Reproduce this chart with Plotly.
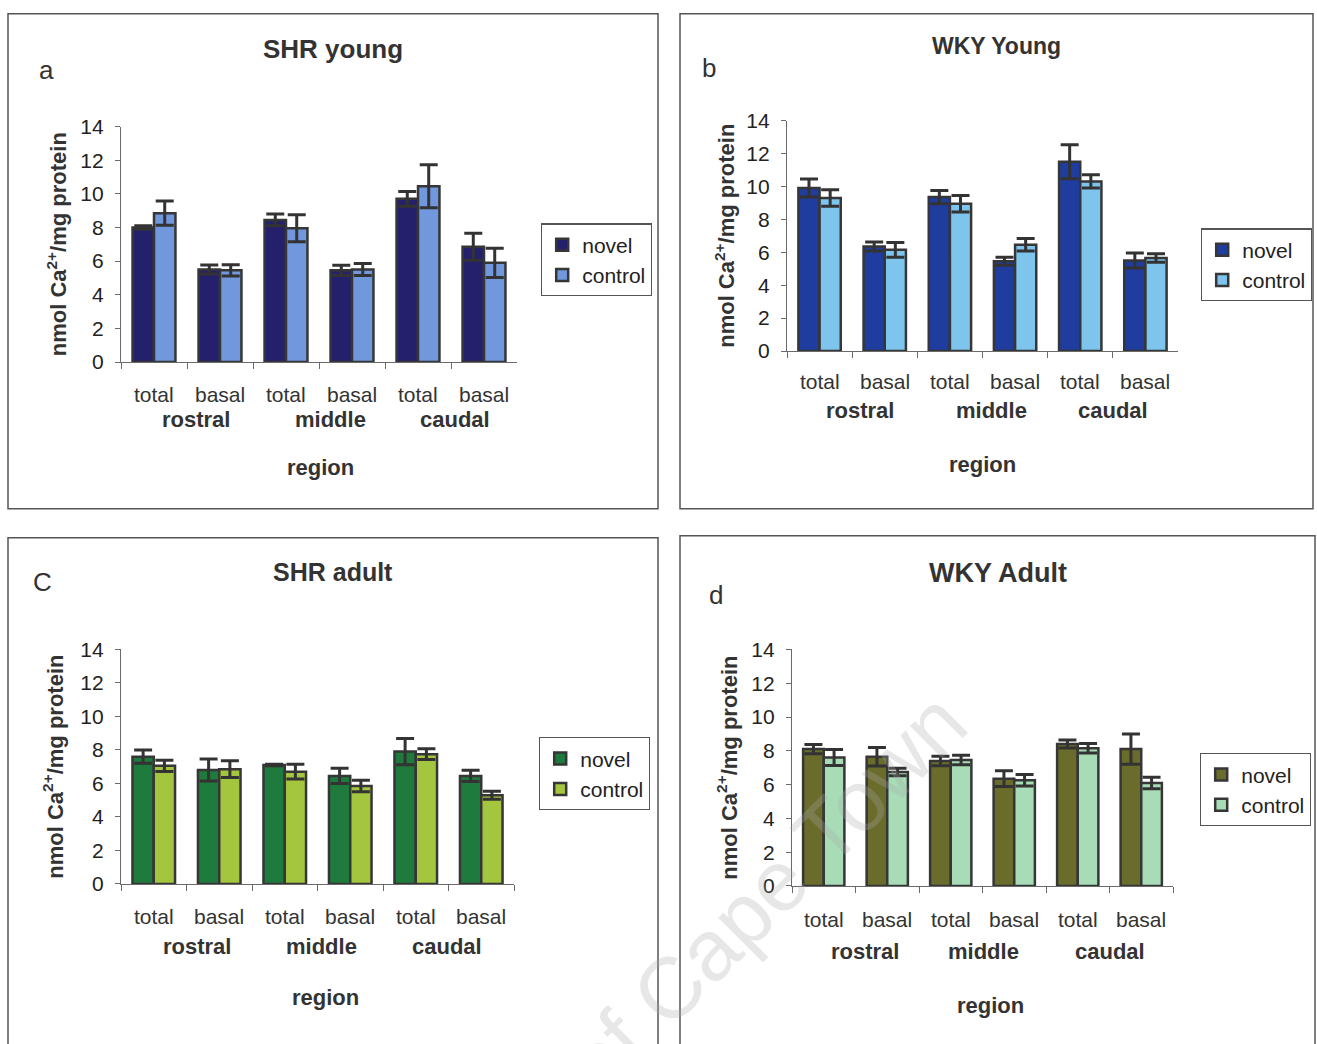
import plotly.graph_objects as go

# ---- data -------------------------------------------------------------
categories = ["rostral total", "rostral basal", "middle total",
              "middle basal", "caudal total", "caudal basal"]
sub_labels = ["total", "basal", "total", "basal", "total", "basal"]
regions = ["rostral", "middle", "caudal"]
y_ticks = [0, 2, 4, 6, 8, 10, 12, 14]

shr_young_novel = [8.0, 5.5, 8.45, 5.45, 9.7, 6.85]
shr_young_novel_err = [0.1, 0.27, 0.35, 0.3, 0.44, 0.8]
shr_young_control = [8.85, 5.45, 7.95, 5.5, 10.45, 5.9]
shr_young_control_err = [0.72, 0.33, 0.8, 0.36, 1.28, 0.87]

wky_young_novel = [9.9, 6.35, 9.35, 5.45, 11.5, 5.5]
wky_young_novel_err = [0.55, 0.28, 0.4, 0.24, 1.03, 0.45]
wky_young_control = [9.3, 6.15, 8.95, 6.45, 10.3, 5.65]
wky_young_control_err = [0.5, 0.45, 0.5, 0.38, 0.4, 0.26]

shr_adult_novel = [7.6, 6.8, 7.1, 6.45, 7.9, 6.45]
shr_adult_novel_err = [0.4, 0.66, 0.05, 0.46, 0.78, 0.34]
shr_adult_control = [7.05, 6.85, 6.7, 5.85, 7.75, 5.3]
shr_adult_control_err = [0.34, 0.5, 0.44, 0.34, 0.32, 0.24]

wky_adult_novel = [8.1, 7.65, 7.4, 6.35, 8.4, 8.1]
wky_adult_novel_err = [0.28, 0.55, 0.28, 0.47, 0.24, 0.89]
wky_adult_control = [7.6, 6.75, 7.45, 6.25, 8.15, 6.1]
wky_adult_control_err = [0.47, 0.22, 0.28, 0.34, 0.28, 0.34]

W, H = 1317, 1044


def px(x):
    return x / W


def py(y):
    # pixel row -> paper fraction, with a small correction for the
    # vertical placement of the rendered figure on the page
    return 1 - ((y - 10.24) / 0.98) / H


# panel geometry in pixels: plot-area left/right, y of 14 and of 0,
# frame box, title/letter spots, legend spot, label offsets below the axis
panels = [
    dict(name="SHR young", letter="a", novel=shr_young_novel, nerr=shr_young_novel_err,
         control=shr_young_control, cerr=shr_young_control_err,
         cn="#25206c", cc="#7197dc",
         x0=121, x1=517, ytop=125, ybot=361, box=(8, 12, 658, 508),
         title=(333, 47, 26), let=(47, 68), leg=(541, 222),
         offs=(33, 58, 106), ytitle_x=57, region_x=320, grp_shift=(9, 11, 4)),
    dict(name="WKY Young", letter="b", novel=wky_young_novel, nerr=wky_young_novel_err,
         control=wky_young_control, cerr=wky_young_control_err,
         cn="#1f3d9e", cc="#7dc5ec",
         x0=787, x1=1178, ytop=119, ybot=350, box=(680, 12, 1313, 508),
         title=(996, 44, 23), let=(709, 66), leg=(1201, 227),
         offs=(31, 60, 114), ytitle_x=725, region_x=982, grp_shift=(8, 9, 0)),
    dict(name="SHR adult", letter="C", novel=shr_adult_novel, nerr=shr_adult_novel_err,
         control=shr_adult_control, cerr=shr_adult_control_err,
         cn="#1f7a3d", cc="#a4c63f",
         x0=121, x1=514, ytop=649, ybot=884, box=(8, 537, 658, 1070),
         title=(333, 571, 25), let=(42, 581), leg=(539, 737),
         offs=(33, 63, 114), ytitle_x=53, region_x=325, grp_shift=(10, 4, -2)),
    dict(name="WKY Adult", letter="d", novel=wky_adult_novel, nerr=wky_adult_novel_err,
         control=wky_adult_control, cerr=wky_adult_control_err,
         cn="#6a6c2b", cc="#a7dcb7",
         x0=792, x1=1173, ytop=649, ybot=886, box=(680, 535, 1315, 1070),
         title=(998, 572, 27), let=(716, 594), leg=(1200, 753),
         offs=(34, 66, 120), ytitle_x=727, region_x=990, grp_shift=(10, 1, 0)),
]

FONT = "Liberation Sans, Arial, sans-serif"
EDGE = "#363636"
AXIS = "#6a6a6a"


def label(text, x, y, size, xref="paper", bold=False, angle=0, color="#333",
          xshift=0):
    return dict(text="<b>%s</b>" % text if bold else text, x=x, y=y,
                xref=xref, yref="paper", xanchor="center", yanchor="middle",
                textangle=angle, showarrow=False, xshift=xshift,
                font=dict(size=size, family=FONT, color=color))


fig = go.Figure()
layout = dict(
    width=W, height=H, margin=dict(l=0, r=0, t=0, b=0),
    paper_bgcolor="white", plot_bgcolor="white",
    font=dict(family=FONT, color="#222"),
    barmode="group", bargap=0.35, bargroupgap=0.0,
    showlegend=True,
)
annotations = []
shapes = []

for i, p in enumerate(panels):
    k = "" if i == 0 else str(i + 1)
    xa, ya = "x" + k, "y" + k
    leg = "legend" + k
    for name, vals, errs, col in (("novel", p["novel"], p["nerr"], p["cn"]),
                                  ("control", p["control"], p["cerr"], p["cc"])):
        fig.add_trace(go.Bar(
            x=categories, y=vals, name=name, xaxis=xa, yaxis=ya, legend=leg,
            marker=dict(color=col, line=dict(color=EDGE, width=2.5)),
            error_y=dict(type="data", array=errs, visible=True,
                         color="#333333", thickness=3, width=9),
        ))

    layout["xaxis" + k] = dict(
        domain=[px(p["x0"]), px(p["x1"])], anchor=ya, type="category",
        categoryorder="array", categoryarray=categories,
        range=[-0.5, 5.5], showline=True, linecolor=AXIS, linewidth=1.3,
        ticks="outside", tickson="boundaries", ticklen=6, tickcolor=AXIS,
        showticklabels=False, showgrid=False, zeroline=False, fixedrange=True,
    )
    layout["yaxis" + k] = dict(
        domain=[py(p["ybot"]), py(p["ytop"])], anchor=xa,
        range=[0, 14], tickvals=y_ticks, showline=True, linecolor=AXIS,
        linewidth=1.3, ticks="outside", ticklen=5, tickcolor=AXIS,
        tickfont=dict(size=21, family=FONT, color="#222"),
        ticklabelstandoff=7, showgrid=False, zeroline=False, fixedrange=True,
    )
    layout[leg] = dict(
        x=px(p["leg"][0]), y=py(p["leg"][1]), xanchor="left", yanchor="top",
        bgcolor="white", bordercolor="#555", borderwidth=1.2,
        font=dict(size=21, family=FONT, color="#222"),
        tracegroupgap=0, itemwidth=30,
    )

    b = p["box"]
    shapes.append(dict(type="rect", xref="paper", yref="paper",
                       x0=px(b[0]), y0=py(b[1]), x1=px(b[2]), y1=py(b[3]),
                       line=dict(color="#555", width=1.5), layer="below"))

    tx, ty, ts = p["title"]
    annotations.append(label(p["name"], px(tx), py(ty), ts, bold=True))
    lx, ly = p["let"]
    annotations.append(label(p["letter"], px(lx), py(ly), 26))

    o1, o2, o3 = p["offs"]
    for cat, lab in zip(categories, sub_labels):
        annotations.append(label(lab, cat, py(p["ybot"] + o1), 21, xref=xa))
    for j, reg in enumerate(regions):
        annotations.append(label(reg, 2 * j + 0.5, py(p["ybot"] + o2), 22,
                                 xref=xa, bold=True, xshift=p["grp_shift"][j]))
    annotations.append(label("region", px(p["region_x"]), py(p["ybot"] + o3),
                             22, bold=True))
    annotations.append(label("nmol Ca<sup>2+</sup>/mg protein", px(p["ytitle_x"]),
                             py((p["ytop"] + p["ybot"]) / 2), 22, bold=True,
                             angle=-90))

# faint institutional watermark running diagonally across the lower half
annotations.append(label("of Cape Town", px(765), py(893), 86, angle=-45,
                         color="rgba(170,170,170,0.28)"))

layout["annotations"] = annotations
layout["shapes"] = shapes
fig.update_layout(**layout)

fig.write_html("out.html")
